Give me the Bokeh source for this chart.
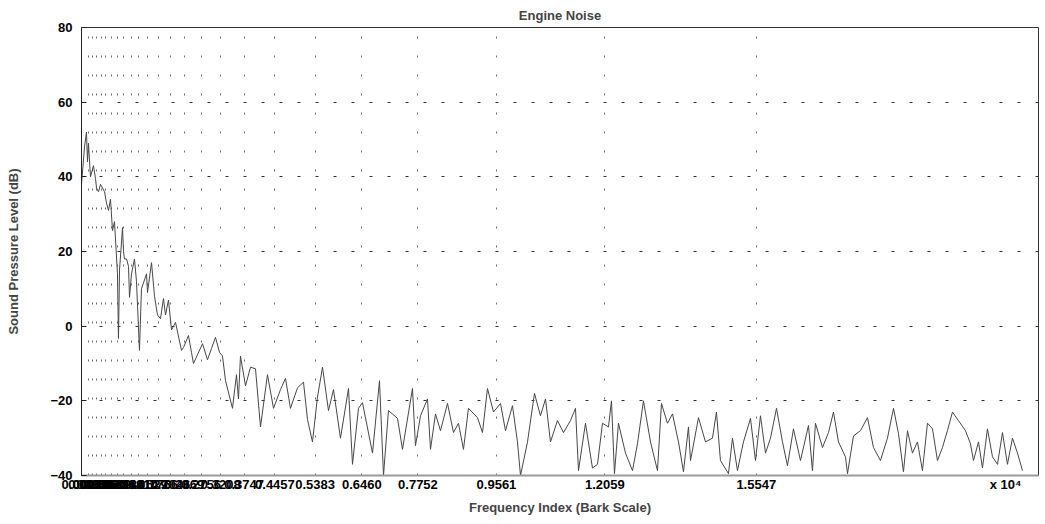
from bokeh.plotting import figure
from bokeh.models import FixedTicker, SingleIntervalTicker, Range1d
from bokeh.embed import file_html
from bokeh.resources import INLINE

# ---- data ----
band_edges_hz = [0, 151, 258, 345, 452, 560, 689, 818, 969, 1141, 1314, 1529,
                 1766, 2046, 2369, 2756, 3208, 3747, 4457, 5383, 6460, 7752,
                 9561, 12059, 15547]

exponent_tick_hz = 21290
exponent_text = "x 10\u2074"

freq_hz = [0, 69, 115, 138, 161, 207, 276, 323, 346, 392, 438, 530, 576, 622,
           668, 714, 760, 829, 852, 876, 945, 968, 991, 1037, 1083, 1106, 1152,
           1221, 1267, 1336, 1382, 1498, 1521, 1613, 1682, 1751, 1820, 1889,
           1935, 2004, 2074, 2166, 2304, 2350, 2465, 2534, 2580, 2788, 2903,
           2995, 3087, 3180, 3249, 3318, 3479, 3571, 3617, 3663, 3779, 3894,
           4009, 4124, 4285, 4424, 4585, 4700, 4815, 4977, 5115, 5207, 5322,
           5437, 5553, 5691, 5806, 5967, 6152, 6244, 6382, 6474, 6705, 6866,
           6958, 7073, 7281, 7396, 7626, 7695, 7811, 7972, 8041, 8156, 8271,
           8433, 8571, 8686, 8801, 8916, 9124, 9239, 9354, 9493, 9654, 9769,
           9930, 10045, 10115, 10276, 10437, 10575, 10691, 10806, 10967, 11105,
           11266, 11382, 11451, 11612, 11773, 11889, 12004, 12142, 12211, 12280,
           12372, 12534, 12695, 12810, 12948, 13110, 13271, 13363, 13501, 13617,
           13755, 13870, 13985, 14032, 14216, 14377, 14538, 14630, 14722, 14907,
           14999, 15114, 15252, 15414, 15529, 15644, 15760, 15875, 16013, 16151,
           16266, 16404, 16566, 16750, 16842, 16911, 17073, 17211, 17326, 17441,
           17603, 17649, 17787, 17948, 18109, 18248, 18409, 18570, 18709, 18824,
           18939, 19031, 19146, 19261, 19376, 19492, 19607, 19722, 19837, 19952,
           20068, 20206, 20367, 20483, 20552, 20667, 20759, 20874, 20990, 21105,
           21220, 21335, 21450, 21566, 21681]

spl_db = [38, 48, 52, 44, 49, 40, 43, 39.5, 37, 36, 38, 36, 33, 31,
          34, 25.6, 28, 14, -3.3, 15, 26.4, 20, 18, 18, 16, 7.7, 14,
          18, 12, -6.5, 10, 14, 9, 17, 8, 3, 2, 7.4,
          3, 7, -1, 1, -6.5, -5.7, -2.5, -7, -10, -4.7, -9,
          -6, -3, -7, -8, -14.6, -22, -13, -19.5, -8, -16, -11,
          -11.4, -27, -13, -22, -17, -14, -22, -16.5, -15, -25, -31,
          -19, -11, -22.6, -17, -30, -16.7, -37, -22, -20.5, -34, -14.6,
          -40, -22.6, -24.7, -33, -16.7, -32, -24, -19.5, -33, -23.5, -28,
          -20.7, -28.5, -26, -33, -22, -24.5, -28.5, -16.7, -23, -20.7, -28,
          -21.3, -31, -40, -31, -18, -24, -19.5, -31, -25.3, -28.5,
          -25.3, -22, -38.7, -26, -38, -37, -26, -27, -20, -39.5,
          -26, -34, -38.7, -31.5, -20, -31, -38.7, -20.7, -26, -23.5,
          -31, -39, -27, -36, -24.5, -31, -30, -23, -36, -39.5,
          -30, -38.7, -31, -24.7, -36, -24, -34, -30, -22, -31,
          -37.4, -27.5, -36, -26.6, -38.7, -26, -32.5, -28.5, -23, -31,
          -35, -39.5, -29.4, -28, -24.5, -32.5, -36, -30, -22, -28.8,
          -39, -28, -34, -31, -38.7, -26, -27.5, -36, -32.5, -28,
          -23, -25.3, -28, -31.5, -36, -31, -38, -27.5, -35, -37,
          -28.5, -37, -30, -34, -38.7]

y_ticks_step = 20
x_tick_labels = {e: f"{e / 1e4:.4f}" for e in band_edges_hz}
x_tick_labels[exponent_tick_hz] = exponent_text

FONT = "Liberation Sans"

p = figure(frame_width=957, frame_height=448,
           x_range=Range1d(0, 22050), y_range=Range1d(-40, 80),
           output_backend="svg", toolbar_location=None,
           min_border_left=81, min_border_right=6,
           min_border_top=27, min_border_bottom=44,
           background_fill_color="white", border_fill_color="white")

p.title.text = "Engine Noise"
p.title.align = "center"
p.title.text_font = FONT
p.title.text_font_size = "13px"
p.title.text_font_style = "bold"
p.title.standoff = 10

p.line(freq_hz, spl_db, line_color="#474747", line_width=1)

# x axis
p.xaxis.ticker = FixedTicker(ticks=band_edges_hz + [exponent_tick_hz])
p.xaxis.major_label_overrides = x_tick_labels
p.xaxis.axis_label = "Frequency Index (Bark Scale)"
p.xaxis.axis_label_text_font = FONT
p.xaxis.axis_label_text_font_size = "13px"
p.xaxis.axis_label_text_font_style = "bold"
p.xaxis.axis_label_standoff = 5
p.xaxis.major_label_text_font = FONT
p.xaxis.major_label_text_font_size = "13px"
p.xaxis.major_label_text_font_style = "bold"
p.xaxis.major_label_text_color = "black"
p.xaxis.major_label_standoff = 1
p.xaxis.major_tick_in = 0
p.xaxis.major_tick_out = 0
p.xaxis.major_tick_line_color = None
p.xaxis.minor_tick_line_color = None
p.xaxis.minor_tick_in = 0
p.xaxis.minor_tick_out = 0
p.xaxis.axis_line_color = "#9a9a9a"
p.xaxis.axis_line_width = 2

# y axis
p.yaxis.ticker = SingleIntervalTicker(interval=y_ticks_step, num_minor_ticks=0)
p.yaxis.axis_label = "Sound Pressure Level (dB)"
p.yaxis.axis_label_text_font = FONT
p.yaxis.axis_label_text_font_size = "13px"
p.yaxis.axis_label_text_font_style = "bold"
p.yaxis.axis_label_standoff = 26
p.yaxis.major_label_text_font = FONT
p.yaxis.major_label_text_font_size = "13px"
p.yaxis.major_label_text_font_style = "bold"
p.yaxis.major_label_text_color = "black"
p.yaxis.major_label_standoff = 9
p.yaxis.major_tick_in = 5
p.yaxis.major_tick_out = 0
p.yaxis.minor_tick_line_color = None
p.yaxis.axis_line_color = "#222222"
p.yaxis.major_tick_line_color = "#222222"

# grids
p.xgrid.ticker = FixedTicker(ticks=band_edges_hz)
p.xgrid.grid_line_color = "#6a6a6a"
p.xgrid.grid_line_dash = "2 17"
p.xgrid.grid_line_width = 1
p.ygrid.grid_line_color = "#333333"
p.ygrid.grid_line_dash = "3 15"
p.ygrid.grid_line_width = 1

p.outline_line_color = "#333333"
p.outline_line_width = 1

open("out.html", "w").write(file_html(p, INLINE))
